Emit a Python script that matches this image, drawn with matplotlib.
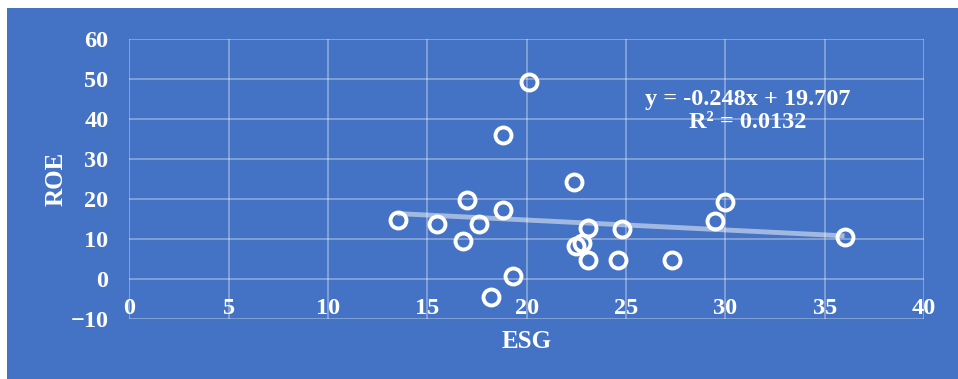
import numpy as np
import matplotlib.pyplot as plt
from matplotlib.patches import Rectangle

# ESG score vs ROE for each company
esg = [13.5, 15.5, 16.8, 17.0, 17.6, 18.8, 18.8, 18.2, 19.3, 20.1,
       22.4, 22.5, 22.8, 23.1, 23.1, 24.6, 24.8, 27.3, 29.5, 30.0, 36.0]
roe = [14.7, 13.8, 9.6, 19.8, 13.8, 36.0, 17.2, -4.4, 0.8, 49.2,
       24.3, 8.2, 8.9, 12.8, 4.8, 4.8, 12.4, 4.8, 14.6, 19.2, 10.6]

# linear trendline
slope = -0.248
intercept = 19.707
r_squared = 0.0132

x_ticks = [0, 5, 10, 15, 20, 25, 30, 35, 40]
y_ticks = [-10, 0, 10, 20, 30, 40, 50, 60]

bg = '#4472C4'
font = 'Liberation Serif'

fig = plt.figure(figsize=(9.58, 3.79), dpi=100)
fig.patch.set_facecolor('white')
fig.patches.append(Rectangle((7 / 958, 0), 1, 1 - 8 / 379, transform=fig.transFigure,
                             facecolor=bg, edgecolor='none', zorder=0))

ax = fig.add_axes([0.135, 0.1583, 0.8295, 0.7388])
ax.set_zorder(1)
ax.set_facecolor(bg)
ax.set_xlim(0, 40)
ax.set_ylim(-10, 60)
ax.set_xticks(x_ticks)
ax.set_yticks(y_ticks)
ax.grid(True, color='white', alpha=0.35, linewidth=1.3)
ax.set_axisbelow(True)
for s in ax.spines.values():
    s.set_visible(False)

ax.tick_params(length=0, labelcolor='white', labelsize=17.5)
ax.tick_params(axis='x', pad=-15)
ax.tick_params(axis='y', pad=15)
for lbl in ax.get_xticklabels() + ax.get_yticklabels():
    lbl.set_fontfamily(font)
    lbl.set_fontweight('bold')

# trendline across the data range
xs = np.array([min(esg), max(esg)])
ax.plot(xs, slope * xs + intercept, color='white', alpha=0.5, linewidth=3.5,
        solid_capstyle='butt', zorder=2)

ax.plot(esg, roe, linestyle='none', marker='o', markersize=11.5,
        markerfacecolor='none', markeredgecolor='white', markeredgewidth=2.8, zorder=3)

ax.text(0.778, 0.743, f'y = {slope}x + {intercept}\nR² = {r_squared}',
        transform=ax.transAxes, ha='center', va='center', color='white',
        fontsize=17.5, fontweight='bold', fontfamily=font, linespacing=1.15)

ax.set_xlabel('ESG', color='white', fontsize=18, fontweight='bold',
              fontfamily=font, labelpad=8)
ax.set_ylabel('ROE', color='white', fontsize=18, fontweight='bold',
              fontfamily=font, labelpad=2)

fig.savefig('out.png', dpi=100, facecolor=fig.get_facecolor())
